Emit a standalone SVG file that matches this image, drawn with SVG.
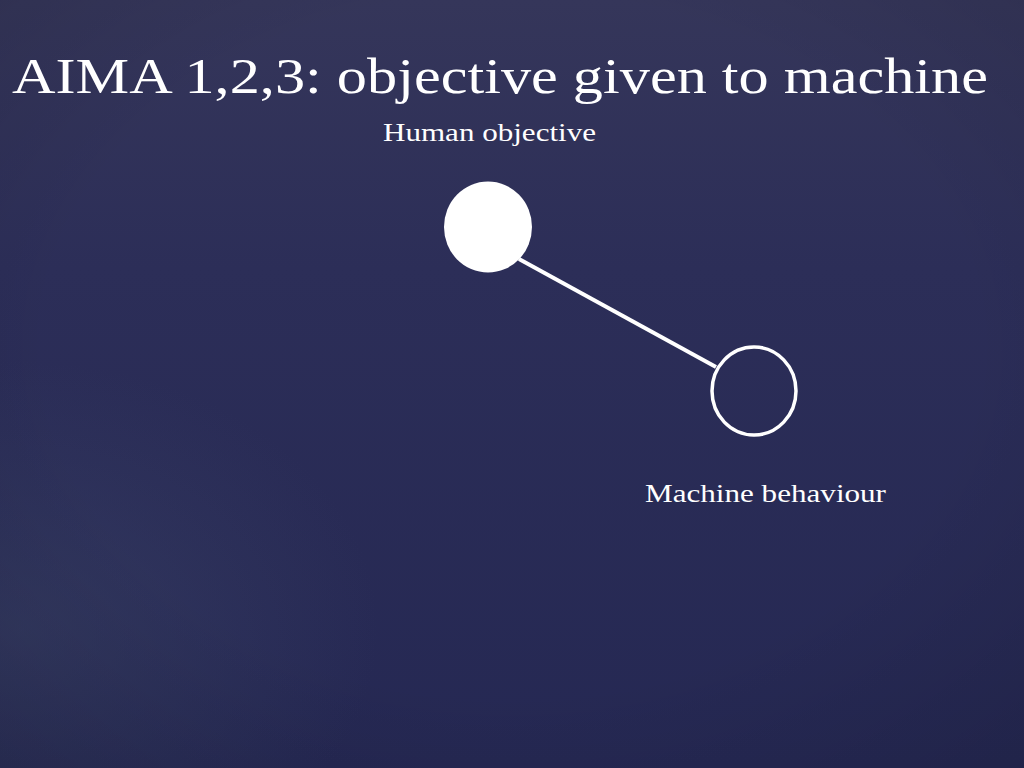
<svg xmlns="http://www.w3.org/2000/svg" width="1024" height="768" viewBox="0 0 1024 768">
  <defs>
    <linearGradient id="bg" x1="0" y1="0" x2="0" y2="1">
      <stop offset="0" stop-color="#35365a"/>
      <stop offset="0.35" stop-color="#2c2e58"/>
      <stop offset="1" stop-color="#252853"/>
    </linearGradient>
    <radialGradient id="glow" cx="0.02" cy="0.82" r="0.35">
      <stop offset="0" stop-color="#3a4266" stop-opacity="0.55"/>
      <stop offset="1" stop-color="#3a4266" stop-opacity="0"/>
    </radialGradient>
    <radialGradient id="shade" cx="0.5" cy="0.45" r="0.75">
      <stop offset="0.6" stop-color="#000" stop-opacity="0"/>
      <stop offset="1" stop-color="#000" stop-opacity="0.12"/>
    </radialGradient>
  </defs>
  <style>
    .t { font-family: "Liberation Serif", "DejaVu Serif", serif; fill: #ffffff; }
    .conn { stroke: #ffffff; stroke-width: 4; fill: none; }
  </style>
  <rect width="1024" height="768" fill="url(#bg)"/>
  <rect width="1024" height="768" fill="url(#glow)"/>
  <rect width="1024" height="768" fill="url(#shade)"/>

  <text id="title" class="t" x="12" y="93" font-size="51" textLength="976" lengthAdjust="spacingAndGlyphs">AIMA 1,2,3: objective given to machine</text>

  <g id="connectors">
    <line class="conn" x1="519" y1="259" x2="716" y2="367"/>
  </g>

  <g id="human-objective">
    <ellipse cx="488" cy="227" rx="44" ry="45.5" fill="#ffffff"/>
    <text class="t" x="383" y="141" font-size="26" textLength="213" lengthAdjust="spacingAndGlyphs">Human objective</text>
  </g>

  <g id="machine-behaviour">
    <ellipse cx="754" cy="391" rx="42" ry="44" fill="none" stroke="#ffffff" stroke-width="3.5"/>
    <text class="t" x="645" y="502" font-size="26" textLength="241" lengthAdjust="spacingAndGlyphs">Machine behaviour</text>
  </g>
</svg>
